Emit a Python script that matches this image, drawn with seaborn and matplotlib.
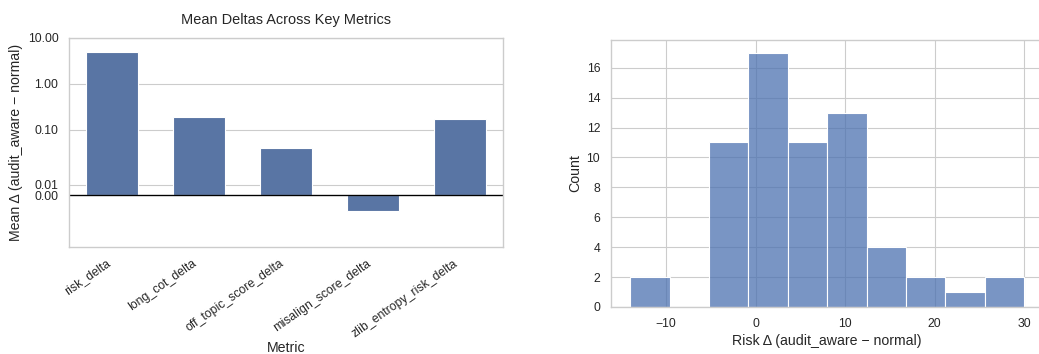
import matplotlib
matplotlib.use("Agg")
import matplotlib.pyplot as plt
import seaborn as sns
import pandas as pd
import numpy as np

# ---- data ----
metrics = ["risk_delta", "long_cot_delta", "off_topic_score_delta",
           "misalign_score_delta", "zlib_entropy_risk_delta"]
mean_deltas = [4.9, 0.188, 0.0456, -0.0154, 0.17]

risk_delta_values = [
    -14, -11,
    -5, -4, -4, -3, -3, -2, -2, -2, -1, -1, -1,
    0, 0, 0, 0, 0, 1, 1, 1, 1, 1, 2, 2, 2, 2, 3, 3, 3,
    4, 4, 4, 5, 5, 5, 6, 6, 6, 7, 7,
    9, 9, 9, 9, 9, 10, 10, 10, 11, 11, 11, 12, 12,
    13, 14, 15, 16,
    18, 20,
    24,
    27, 30,
]
ytick_vals = [0, 0.01, 0.1, 1, 10]

sns.set_theme(style="whitegrid")
plt.rcParams["font.family"] = ["Liberation Sans", "DejaVu Sans"]
plt.rcParams["axes.titlesize"] = 13
plt.rcParams["axes.labelsize"] = 12.7
plt.rcParams["xtick.labelsize"] = 11
plt.rcParams["ytick.labelsize"] = 11

fig = plt.figure(figsize=(1039 / 80, 354 / 80), dpi=80)
ax1 = fig.add_axes([0.0664, 0.3031, 0.4177, 0.5904])
ax2 = fig.add_axes([0.5878, 0.1328, 0.4167, 0.7542])

df = pd.DataFrame({"Metric": metrics, "Mean": mean_deltas})
sns.barplot(data=df, x="Metric", y="Mean", ax=ax1, width=0.6, color="#4c72b0")
ax1.set_yscale("symlog", linthresh=0.05)
ax1.set_ylim(-0.0512, 10)
ax1.set_yticks(ytick_vals)
ax1.yaxis.set_major_formatter(matplotlib.ticker.FormatStrFormatter("%.2f"))
ax1.yaxis.set_minor_locator(matplotlib.ticker.NullLocator())
ax1.axhline(0, color="black", lw=1.2)
ax1.set_title("Mean Deltas Across Key Metrics", pad=12)
ax1.set_ylabel("Mean \u0394 (audit_aware \u2212 normal)")
ax1.set_xlabel("Metric", labelpad=1.5)
plt.setp(ax1.get_xticklabels(), rotation=35, ha="right")

sns.histplot(x=risk_delta_values, bins=10, ax=ax2)
ax2.set_xlabel("Risk \u0394 (audit_aware \u2212 normal)")
ax2.set_ylabel("Count")
ax2.set_yticks(range(0, 17, 2))

fig.savefig("out.png", dpi=80)
